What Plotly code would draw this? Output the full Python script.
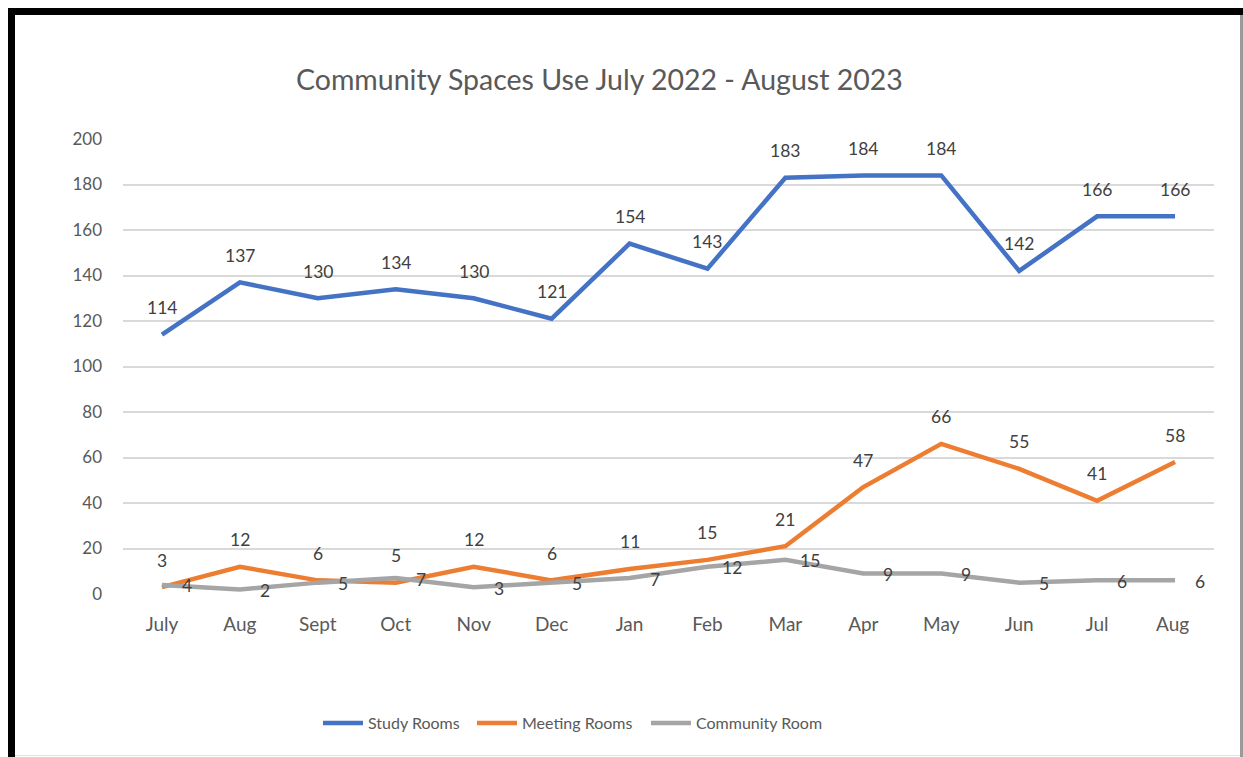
import plotly.graph_objects as go

months = ["July", "Aug", "Sept", "Oct", "Nov", "Dec", "Jan", "Feb", "Mar", "Apr", "May", "Jun", "Jul", "Aug "]
study_rooms = [114, 137, 130, 134, 130, 121, 154, 143, 183, 184, 184, 142, 166, 166]
meeting_rooms = [3, 12, 6, 5, 12, 6, 11, 15, 21, 47, 66, 55, 41, 58]
community_room = [4, 2, 5, 7, 3, 5, 7, 12, 15, 9, 9, 5, 6, 6]
y_ticks = [0, 20, 40, 60, 80, 100, 120, 140, 160, 180, 200]

W, H = 1243, 757
L, R, T, B = 123, 29, 139, 163
PW, PH = W - L - R, H - T - B

def px(x):
    return (x - L) / PW

def py(y):
    return (H - B - y) / PH

FONT = "Lato"
TXT = "#595959"

fig = go.Figure()
series = [
    ("Study Rooms", study_rooms, "#4472C4", "legend", 318),
    ("Meeting Rooms", meeting_rooms, "#ED7D31", "legend2", 472),
    ("Community Room", community_room, "#A5A5A5", "legend3", 646),
]
legends = {}
for name, vals, col, lg, lx in series:
    fig.add_trace(go.Scatter(x=months, y=vals, mode="lines", name=name, legend=lg,
                             line=dict(color=col, width=4.5), hoverinfo="skip"))
    legends[lg] = dict(orientation="h", x=px(lx), xanchor="left", y=py(723), yanchor="middle",
                       font=dict(family=FONT, size=16, color=TXT), itemwidth=40,
                       bgcolor="rgba(0,0,0,0)")

ann = []
for vals, pos in [(study_rooms, "top"), (meeting_rooms, "top"), (community_room, "right")]:
    for m, v in zip(months, vals):
        if pos == "top":
            ann.append(dict(x=m, y=v, xref="x", yref="y", text=str(v), showarrow=False,
                            yshift=27, font=dict(family=FONT, size=17.5, color="#404040")))
        else:
            ann.append(dict(x=m, y=v, xref="x", yref="y", text=str(v), showarrow=False,
                            xshift=25, yshift=-1, font=dict(family=FONT, size=17.5, color="#404040")))

ann.append(dict(x=px(599), y=py(79), xref="paper", yref="paper", text="Community Spaces Use July 2022 - August 2023",
                showarrow=False, xanchor="center", yanchor="middle",
                font=dict(family=FONT, size=28.5, color=TXT)))

shapes = [
    dict(type="rect", xref="paper", yref="paper", x0=px(8), x1=px(15), y0=py(757), y1=py(8),
         fillcolor="black", line=dict(width=0), layer="above"),
    dict(type="rect", xref="paper", yref="paper", x0=px(8), x1=px(1243), y0=py(15), y1=py(8),
         fillcolor="black", line=dict(width=0), layer="above"),
    dict(type="rect", xref="paper", yref="paper", x0=px(1240), x1=px(1243), y0=py(757), y1=py(15),
         fillcolor="#9A9A9A", line=dict(width=0), layer="above"),
    dict(type="line", xref="paper", yref="paper", x0=px(15), x1=px(1240), y0=py(755.5), y1=py(755.5),
         line=dict(color="#E0E0E0", width=1), layer="above"),
]

fig.update_layout(
    width=W, height=H,
    margin=dict(l=L, r=R, t=T, b=B, autoexpand=False),
    paper_bgcolor="white", plot_bgcolor="white",
    showlegend=True,
    annotations=ann, shapes=shapes,
    xaxis=dict(type="category", range=[-0.5, 13.5], showgrid=False, zeroline=False, showline=False,
               ticks="", tickfont=dict(family=FONT, size=19, color=TXT), ticklabelstandoff=17),
    yaxis=dict(range=[0, 200], tickvals=y_ticks, showgrid=True, gridcolor="#D9D9D9", gridwidth=1.5,
               zeroline=False, showline=False, ticks="", tickfont=dict(family=FONT, size=17, color=TXT),
               ticklabelstandoff=20),
    **legends,
)

fig.write_html("out.html")
